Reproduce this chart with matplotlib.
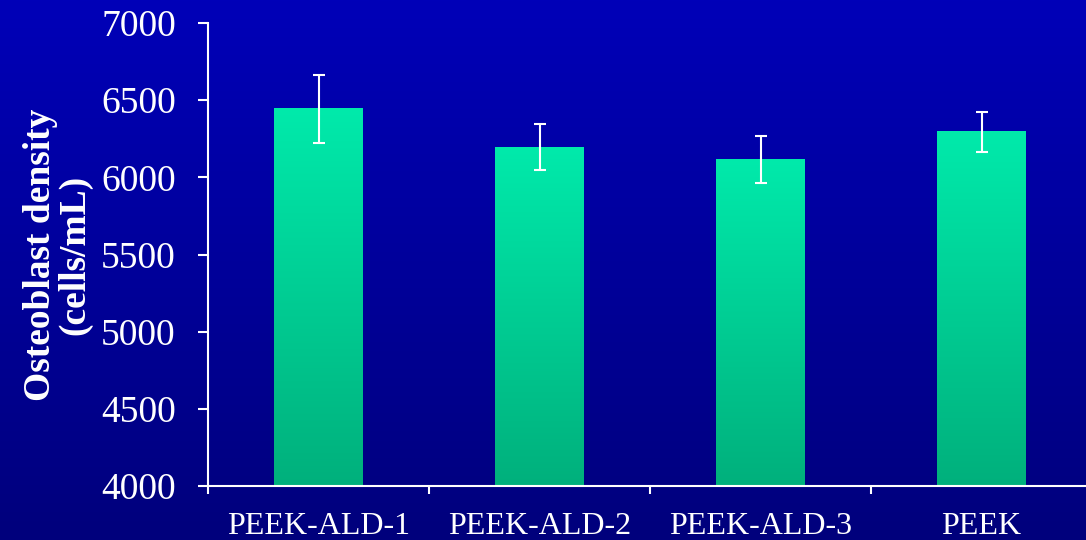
import matplotlib
matplotlib.use("Agg")
import matplotlib.pyplot as plt
import numpy as np
from matplotlib.colors import LinearSegmentedColormap

# data
groups = ["PEEK-ALD-1", "PEEK-ALD-2", "PEEK-ALD-3", "PEEK"]
density = [6443, 6196, 6115, 6294]
errors = [220, 150, 152, 130]

plt.rcParams['font.family'] = ['Liberation Serif', 'DejaVu Serif']

fig = plt.figure(figsize=(10.86, 5.40), dpi=100)

# blue gradient background
bg = fig.add_axes([0, 0, 1, 1], zorder=-10)
bg_cmap = LinearSegmentedColormap.from_list("bg", ["#00007c", "#0000b8"])
bg.imshow(np.linspace(0, 1, 256).reshape(-1, 1), cmap=bg_cmap, aspect='auto',
          origin='lower', extent=(0, 1, 0, 1))
bg.set_axis_off()

ax = fig.add_axes([208 / 1086, 54 / 540, 884 / 1086, 463 / 540])
ax.patch.set_alpha(0)

x = np.arange(len(groups))
bars = ax.bar(x, density, width=0.40, color='none', edgecolor='none', zorder=2)

# green gradient inside each bar
bar_cmap = LinearSegmentedColormap.from_list("bar", ["#00b07c", "#00eaab"])
for b in bars:
    x0 = b.get_x()
    x1 = x0 + b.get_width()
    ax.imshow(np.linspace(0, 1, 256).reshape(-1, 1), cmap=bar_cmap, aspect='auto',
              origin='lower', extent=(x0, x1, 4000, b.get_height()),
              vmin=0, vmax=1, zorder=2)

ax.errorbar(x, density, yerr=errors, fmt='none', ecolor='white', elinewidth=1.5,
            capsize=4.3, capthick=1.5, zorder=3)

ax.set_xlim(-0.5, 3.5)
ax.set_ylim(4000, 7000)
ax.set_yticks(np.arange(4000, 7001, 500))
ax.set_xticks(x)
ax.set_xticklabels(groups)
ax.set_xticks(np.arange(-0.5, 3.6, 1.0), minor=True)

for s in ['top', 'right']:
    ax.spines[s].set_visible(False)
for s in ['left', 'bottom']:
    ax.spines[s].set_color('white')
    ax.spines[s].set_linewidth(1.5)

ax.tick_params(axis='y', colors='white', labelsize=27, length=7.2, width=1.5, pad=16)
ax.tick_params(axis='x', which='major', colors='white', labelsize=23, length=0, pad=19)
ax.tick_params(axis='x', which='minor', colors='white', length=5.8, width=1.5)

ax.set_ylabel("Osteoblast density\n(cells/mL)", color='white', fontsize=27,
              fontweight='bold', labelpad=6, linespacing=1.0)

fig.savefig("out.png", dpi=100)
